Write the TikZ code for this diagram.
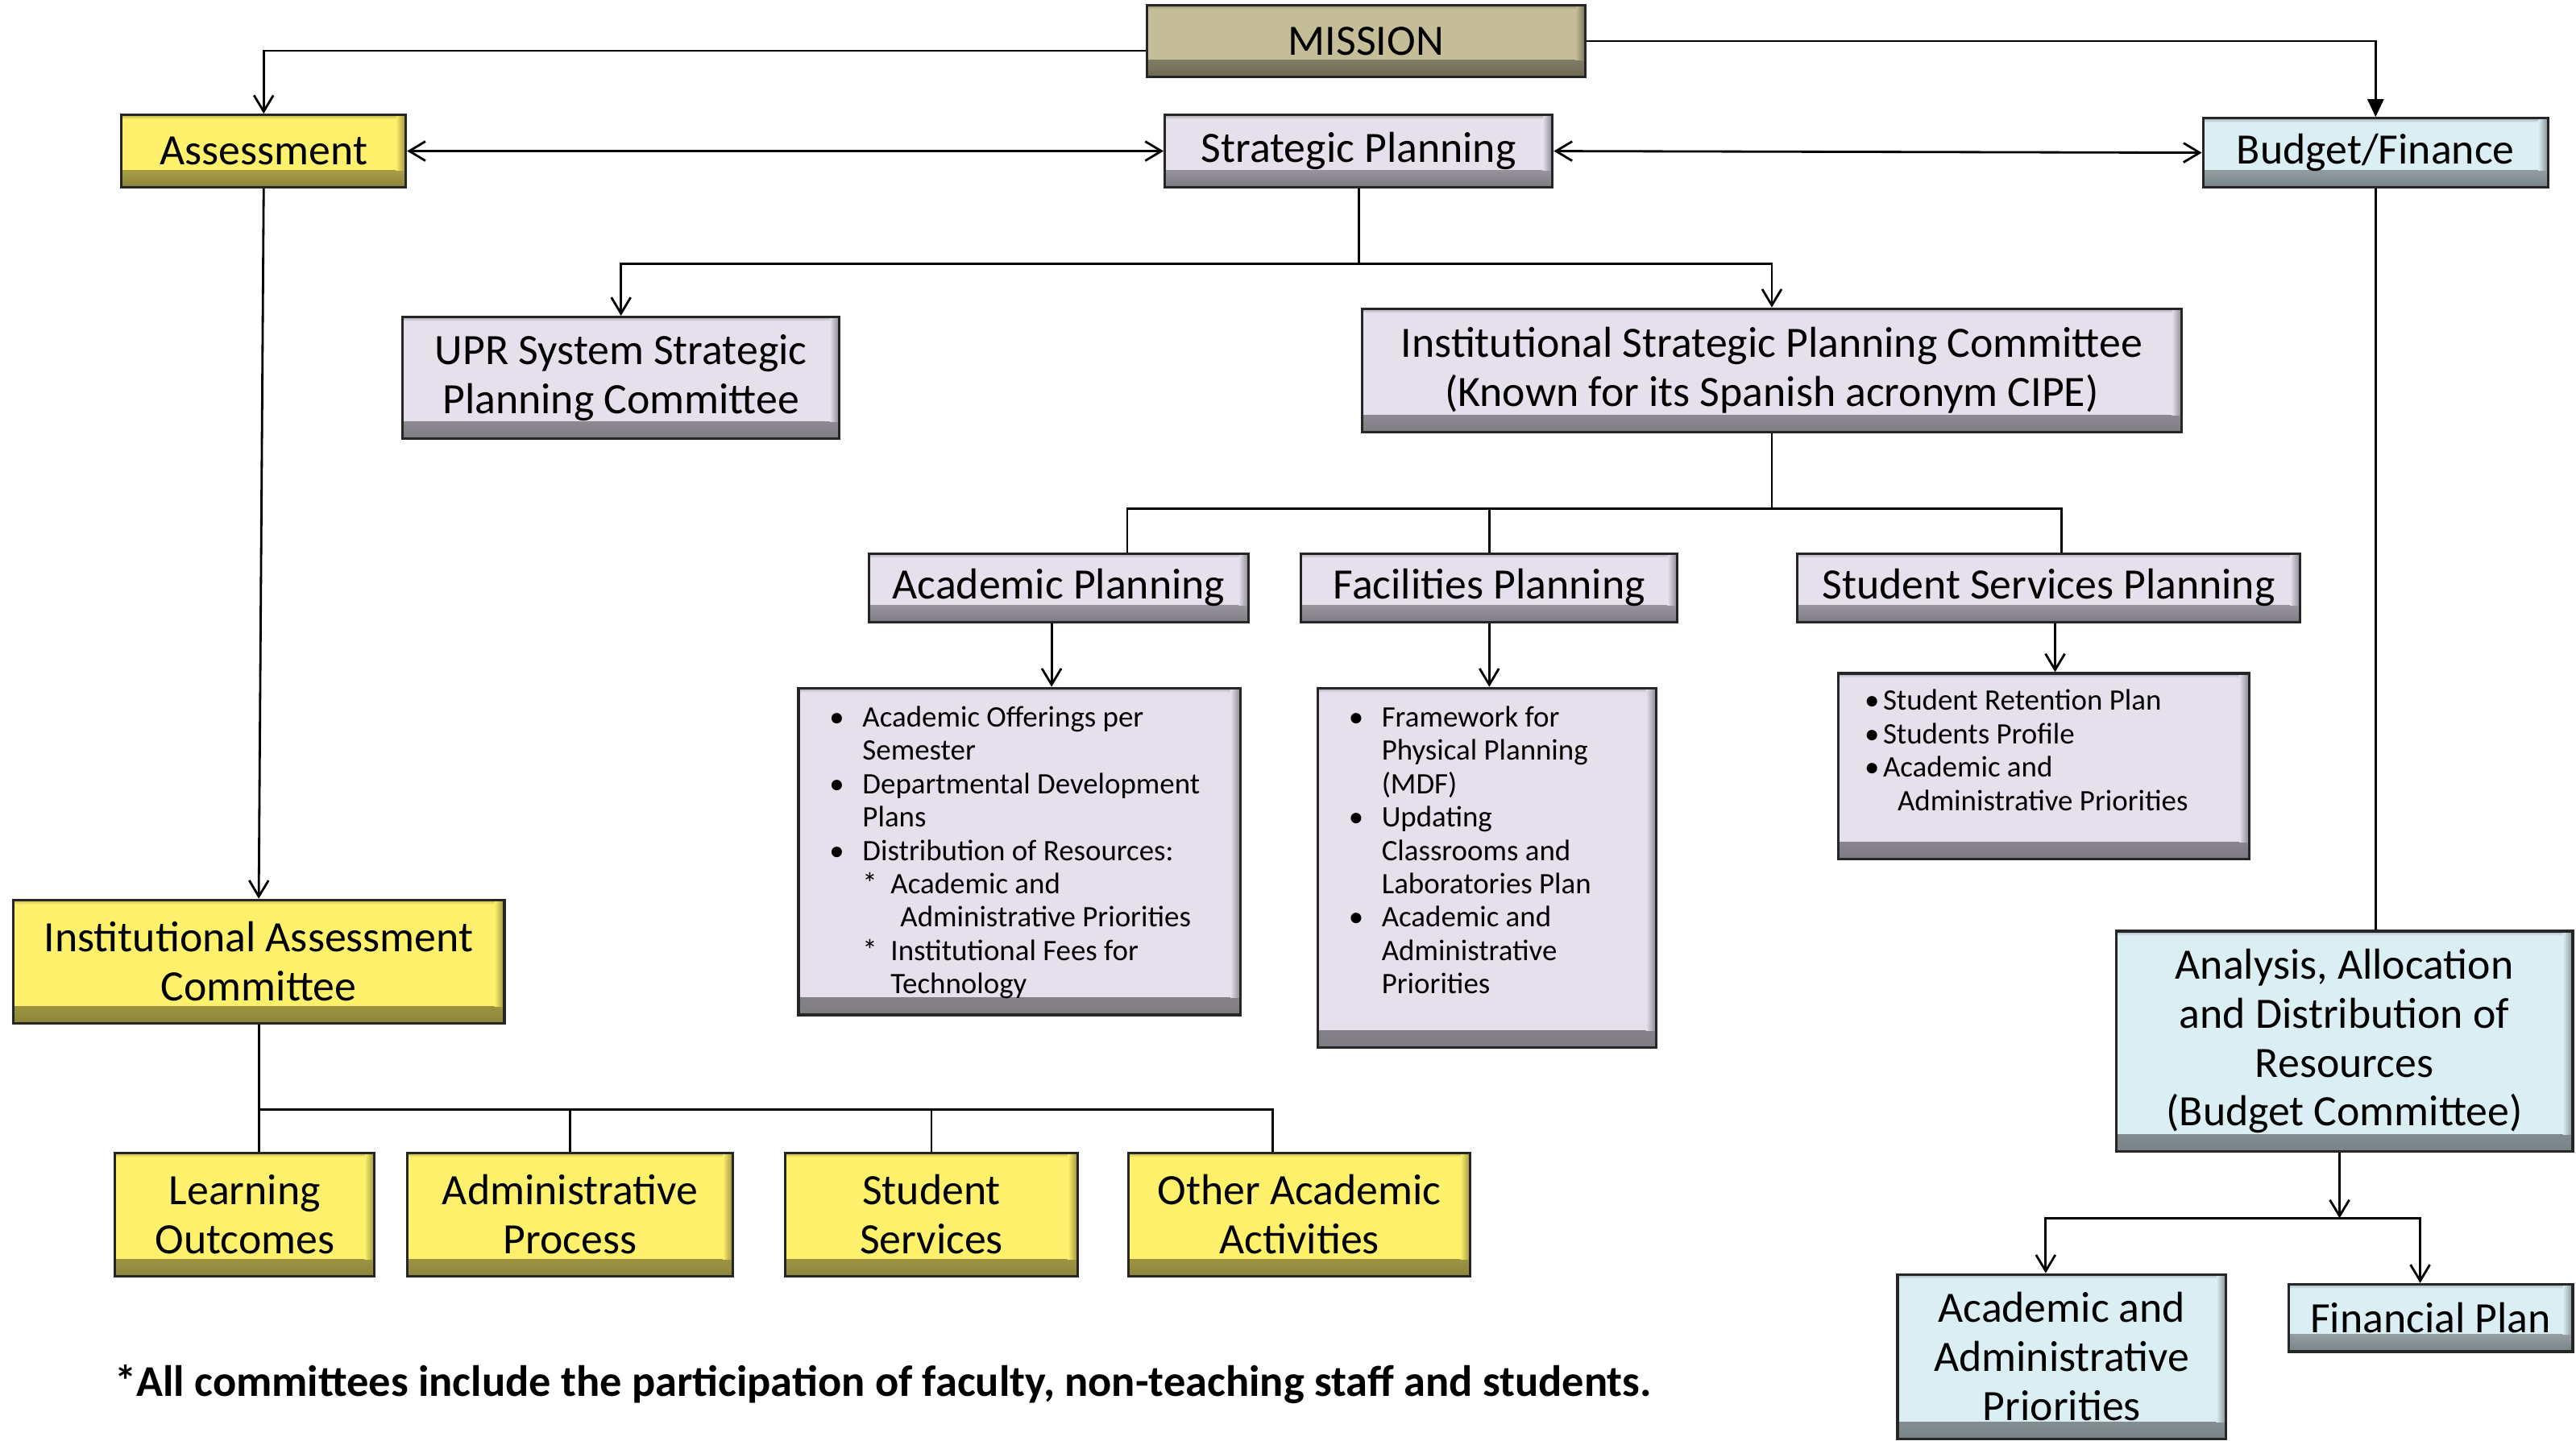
\documentclass[tikz,border=0pt]{standalone}
\usepackage{fontspec}
\setmainfont{Carlito}
\usepackage{xcolor}
\usepackage{tikz}
\usetikzlibrary{arrows.meta, positioning}

\definecolor{missiontan}{HTML}{C4BD97}
\definecolor{assessyellow}{HTML}{FFF16B}
\definecolor{planlilac}{HTML}{E5E0EC}
\definecolor{budgetblue}{HTML}{DBEEF4}

\newcommand{\px}{0.2039mm}
\newcommand{\bul}[1][4.1mm]{\makebox[#1][l]{\textbullet}}
\newcommand{\ind}[1][4.1mm]{\hspace*{#1}}
\newcommand{\subitm}{\makebox[3.5mm][l]{*}}

\begin{document}
\begin{tikzpicture}[x=0.2039mm, y=-0.2039mm, line width=0.8pt,
    panel/.style={rectangle, draw=black!85, line width=0.9pt, align=center, inner sep=2pt,
                  fill=#1, font=\fontsize{15.3}{17.3}\selectfont,
                  path picture={
                    \shade[top color=#1, bottom color=#1!55!black]
                      ([yshift=6pt]path picture bounding box.south west) rectangle (path picture bounding box.south east);
                    \shade[left color=#1, right color=#1!60!black]
                      ([xshift=-3.5pt]path picture bounding box.north east) rectangle ([yshift=6pt]path picture bounding box.south east);
                    \shade[top color=#1!75!black, bottom color=#1]
                      (path picture bounding box.north west) rectangle ([yshift=-1.5pt, xshift=-3.5pt]path picture bounding box.north east);
                  }},
    missionbox/.style={panel=missiontan},
    yellowbox/.style={panel=assessyellow},
    lilacbox/.style={panel=planlilac},
    bluebox/.style={panel=budgetblue},
    listtext/.style={anchor=north west, inner sep=0pt, align=left, font=\fontsize{10.5}{11.8}\selectfont},
    arr/.style={-{Straight Barb[length=2mm, width=2.4mm]}},
    darr/.style={{Straight Barb[length=2mm, width=2.4mm]}-{Straight Barb[length=2mm, width=2.4mm]}},
    farr/.style={-{Triangle[length=2.2mm, width=2mm]}}]
  \useasboundingbox (0,0) rectangle (1568,877);

  % top row
  \node[missionbox, minimum width=267*\px, minimum height=44*\px] (mission) at (831.5,25)   {MISSION};
  \node[yellowbox,  minimum width=173*\px, minimum height=44*\px] (assess)  at (160.5,92)   {Assessment};
  \node[lilacbox,   minimum width=236*\px, minimum height=44*\px] (strat)   at (827,92)     {Strategic Planning};
  \node[bluebox,    minimum width=210*\px, minimum height=42*\px] (budget)  at (1446,93)    {Budget/Finance};

  % planning committees
  \node[lilacbox, minimum width=266*\px, minimum height=74*\px] (upr)  at (378,230)    {UPR System Strategic\\Planning Committee};
  \node[lilacbox, minimum width=499*\px, minimum height=75*\px] (cipe) at (1078.5,225.5)
    {Institutional Strategic Planning Committee\\(Known for its Spanish acronym CIPE)};

  \node[lilacbox, minimum width=231*\px, minimum height=42*\px] (acadplan) at (644.5,358) {Academic Planning};
  \node[lilacbox, minimum width=229*\px, minimum height=42*\px] (facplan)  at (906.5,358) {Facilities Planning};
  \node[lilacbox, minimum width=306*\px, minimum height=42*\px] (studplan) at (1247,358)  {Student Services Planning};

  % lists
  \node[lilacbox, minimum width=269*\px, minimum height=199*\px] (acadlist) at (620.5,518.5) {};
  \node[lilacbox, minimum width=206*\px, minimum height=219*\px] (faclist)  at (905,528.5)   {};
  \node[lilacbox, minimum width=250*\px, minimum height=113*\px] (studlist) at (1244,466.5)  {};

  \node[listtext] (acaditems) at ([shift={(19,11)}]acadlist.north west) {%
    \bul Academic Offerings per\\
    \ind Semester\\
    \bul Departmental Development\\
    \ind Plans\\
    \bul Distribution of Resources:\\
    \ind\subitm Academic and\\
    \ind[8.8mm]Administrative Priorities\\
    \ind\subitm Institutional Fees for\\
    \ind[7.6mm]Technology};
  \node[listtext] (facitems) at ([shift={(19,11)}]faclist.north west) {%
    \bul Framework for\\
    \ind Physical Planning\\
    \ind (MDF)\\
    \bul Updating\\
    \ind Classrooms and\\
    \ind Laboratories Plan\\
    \bul Academic and\\
    \ind Administrative\\
    \ind Priorities};
  \node[listtext] (studitems) at ([shift={(16,10)}]studlist.north west) {%
    \bul[2.3mm]Student Retention Plan\\
    \bul[2.3mm]Students Profile\\
    \bul[2.3mm]Academic and\\
    \ind Administrative Priorities};

  % assessment branch
  \node[yellowbox, minimum width=299*\px, minimum height=75*\px] (iac)      at (157.5,585.5) {Institutional Assessment\\Committee};
  \node[yellowbox, minimum width=158*\px, minimum height=75*\px] (learn)    at (149,739.5)   {Learning\\Outcomes};
  \node[yellowbox, minimum width=198*\px, minimum height=75*\px] (admin)    at (347,739.5)   {Administrative\\Process};
  \node[yellowbox, minimum width=178*\px, minimum height=75*\px] (studserv) at (567,739.5)   {Student\\Services};
  \node[yellowbox, minimum width=208*\px, minimum height=75*\px] (other)    at (791,739.5)   {Other Academic\\Activities};

  % budget branch
  \node[bluebox, minimum width=278*\px, minimum height=134*\px] (analysis) at (1427,634)
    {Analysis, Allocation\\and Distribution of\\Resources\\(Budget Committee)};
  \node[bluebox, minimum width=200*\px, minimum height=100*\px] (aap) at (1255,826)    {Academic and\\Administrative\\Priorities};
  \node[bluebox, minimum width=173*\px, minimum height=41*\px]  (fin) at (1479.5,802.5) {Financial Plan};

  \node[font=\bfseries\fontsize{15.5}{18}\selectfont] (note) at (537.5,843)
    {*All committees include the participation of faculty, non-teaching staff and students.};

  % connectors
  \draw[arr]  ([yshift=-1.2mm]mission.west) -| (assess.north);
  \draw[farr] (mission.east) -| (budget.north);
  \draw[darr] (assess.east) -- (strat.west);
  \draw[darr] (strat.east) -- (budget.west);

  \draw (strat.south) -- ++(0,46) coordinate (sp);
  \draw[arr] (sp) -| (upr.north);
  \draw[arr] (sp) -| (cipe.north);

  \draw (cipe.south) -- ++(0,46) coordinate (cp);
  \draw (cp) -| ([xshift=8.5mm]acadplan.north);
  \draw (cp) -| ([xshift=1.6mm]studplan.north);
  \draw (facplan.north) -- (facplan.north |- cp);

  \draw[arr] ([xshift=-0.9mm]acadplan.south) -- ([xshift=-0.9mm]acadplan.south |- acadlist.north);
  \draw[arr] (facplan.south) -- (facplan.south |- faclist.north);
  \draw[arr] ([xshift=0.8mm]studplan.south) -- ([xshift=0.8mm]studplan.south |- studlist.north);

  \draw[arr] (assess.south) -- (iac.north);
  \draw (iac.south) -- (iac.south |- learn.north);
  \draw (iac.south) ++(0,52) coordinate (ip) -| ([xshift=-3.3mm]other.north);
  \draw (admin.north) -- (admin.north |- ip);
  \draw (studserv.north) -- (studserv.north |- ip);

  \draw (budget.south) -- (budget.south |- analysis.north);
  \draw[arr] ([xshift=-0.6mm]analysis.south) -- ++(0,40) coordinate (ap);
  \draw[arr] (ap) -| ([xshift=-2mm]aap.north);
  \draw[arr] (ap) -| ([xshift=-1.3mm]fin.north);
\end{tikzpicture}
\end{document}
